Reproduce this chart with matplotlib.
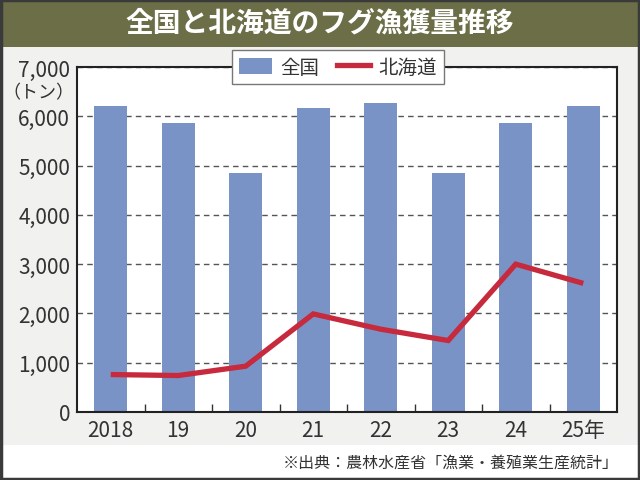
import matplotlib
matplotlib.use("Agg")
import matplotlib.pyplot as plt
from matplotlib.patches import Rectangle
from matplotlib.lines import Line2D

plt.rcParams["font.family"] = ["Noto Sans CJK JP", "DejaVu Sans"]

years = ["2018", "19", "20", "21", "22", "23", "24", "25年"]
national = [6200, 5860, 4850, 6170, 6270, 4850, 5860, 6200]
hokkaido = [760, 740, 930, 1990, 1680, 1450, 3000, 2610]
yticks = [0, 1000, 2000, 3000, 4000, 5000, 6000, 7000]

W, H = 640, 481
bar_color = "#7a93c6"
line_color = "#c62a3c"
text_color = "#333333"

fig = plt.figure(figsize=(W / 100, H / 100), dpi=100)
fig.patch.set_facecolor("#f1f1ef")

# footer strip and title band
fig.patches.append(Rectangle((0, 0), 1, (H - 446) / H, transform=fig.transFigure,
                             facecolor="white", edgecolor="none", zorder=0))
fig.patches.append(Rectangle((0, (H - 48) / H), 1, 48 / H, transform=fig.transFigure,
                             facecolor="#6b6e46", edgecolor="none", zorder=0))
fig.patches.append(Rectangle((0.002, 0.002), 0.996, 0.996, transform=fig.transFigure,
                             facecolor="none", edgecolor="#3a3a3a", linewidth=2.5, zorder=5))

fig.text(0.5, (H - 24) / H, "全国と北海道のフグ漁獲量推移", color="white",
         fontsize=20, fontweight="bold", ha="center", va="center")
fig.text(619 / W, (H - 463) / H, "※出典：農林水産省「漁業・養殖業生産統計」",
         color=text_color, fontsize=11.5, ha="right", va="center")
fig.text(74 / W, (H - 93) / H, "（トン）", color=text_color, fontsize=13,
         ha="right", va="center")

ax = fig.add_axes([77 / W, (H - 413) / H, 540 / W, 345 / H])
ax.set_facecolor("white")
x = list(range(len(years)))
ax.bar(x, national, width=0.49, color=bar_color, zorder=2)
ax.plot(x, hokkaido, color=line_color, linewidth=3.8, solid_capstyle="butt",
        solid_joinstyle="miter", zorder=3)

ax.set_xlim(-0.5, 7.5)
ax.set_ylim(0, 7000)
ax.set_yticks(yticks)
ax.set_yticklabels([f"{v:,}" for v in yticks])
ax.set_xticks(x)
ax.set_xticklabels(years)
ax.set_xticks([i + 0.5 for i in range(7)], minor=True)
ax.tick_params(axis="both", which="major", length=0, labelsize=15,
               labelcolor=text_color, pad=5)
ax.tick_params(axis="x", which="minor", direction="in", length=6, width=1,
               color="#333333")
ax.set_axisbelow(True)
ax.yaxis.grid(True, linestyle=(0, (4, 3)), color="#555555", linewidth=1)
for s in ax.spines.values():
    s.set_color("#222222")
    s.set_linewidth(1.5)

handles = [Rectangle((0, 0), 1, 1, facecolor=bar_color),
           Line2D([0], [0], color=line_color, linewidth=3.8)]
leg = ax.legend(handles, ["全国", "北海道"], loc="center", bbox_to_anchor=(0.483, 1.0),
                ncol=2, fontsize=14, frameon=True, fancybox=False, framealpha=1,
                edgecolor="#777777", handlelength=1.7, handleheight=0.85,
                columnspacing=0.9, borderpad=0.35, handletextpad=0.45)
leg.get_frame().set_linewidth(1)
for t in leg.get_texts():
    t.set_color(text_color)

fig.savefig("out.png", dpi=100, facecolor=fig.get_facecolor())
